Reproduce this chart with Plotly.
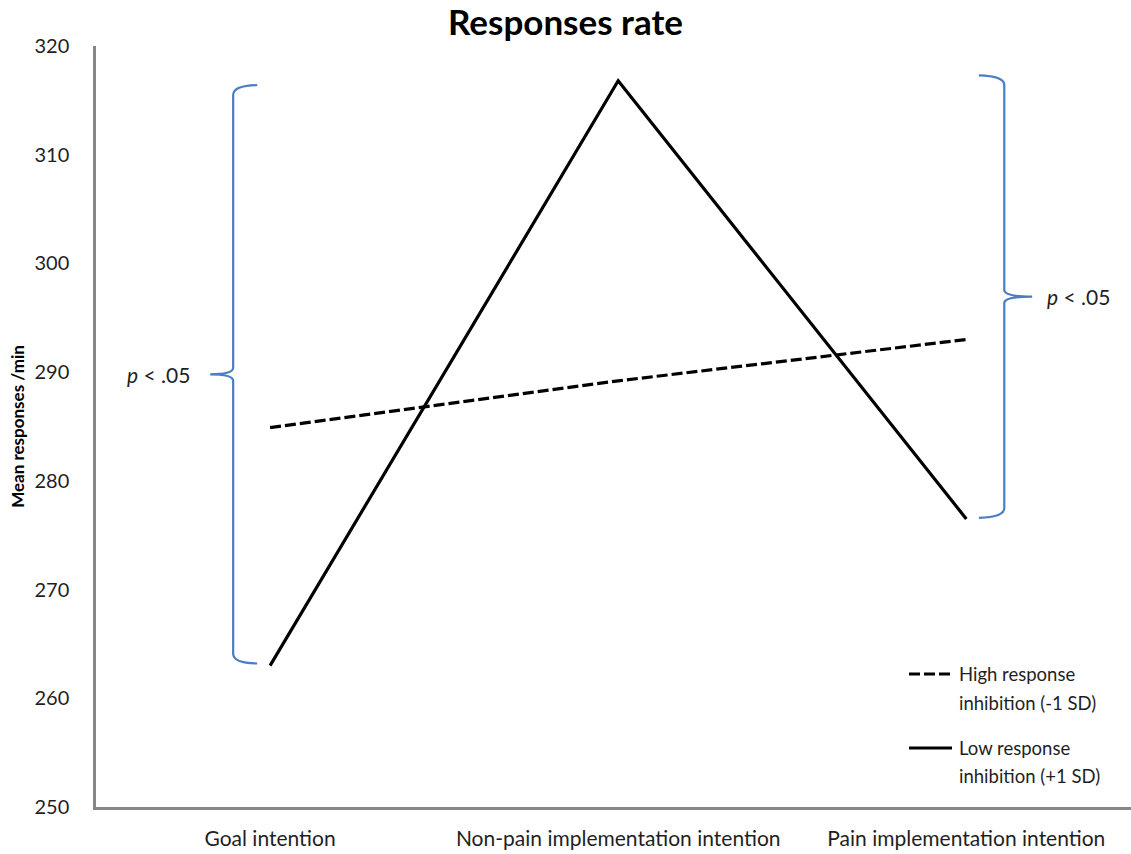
import plotly.graph_objects as go

categories = ["Goal intention", "Non-pain implementation intention", "Pain implementation intention"]
high_inhibition = [284.9, 289.2, 293.0]   # High response inhibition (-1 SD), dashed
low_inhibition = [263.0, 316.8, 276.5]    # Low response inhibition (+1 SD), solid
y_ticks = [250, 260, 270, 280, 290, 300, 310, 320]
series_names = [["High response", "inhibition (-1 SD)"], ["Low response", "inhibition (+1 SD)"]]

# significance braces: [category index, low value, high value, label]
brace_left = [0, 263.2, 316.4, "<i>p</i> < .05"]
brace_right = [2, 276.6, 317.3, "<i>p</i> < .05"]

FONT = "Lato, 'Open Sans', sans-serif"
BLUE = "#4A7EC4"
TXT = "#1f1f1f"
DASH = "11px,4px"

W, H = 1131, 854
L, T, B = 96, 46, 47

fig = go.Figure()
xs = list(range(len(categories)))
fig.add_trace(go.Scatter(x=xs, y=high_inhibition, mode="lines",
                         name=" ".join(series_names[0]),
                         line=dict(color="black", width=3.2, dash=DASH)))
fig.add_trace(go.Scatter(x=xs, y=low_inhibition, mode="lines",
                         name=" ".join(series_names[1]),
                         line=dict(color="black", width=3.2)))


def brace_path(xv, xh, xt, lo, hi, r=0.9, t=0.6):
    mid = (lo + hi) / 2
    return (f"M {xh},{hi} Q {xv},{hi - 0.05} {xv},{hi - r} "
            f"L {xv},{mid + t} Q {xv},{mid} {xt},{mid} "
            f"Q {xv},{mid} {xv},{mid - t} "
            f"L {xv},{lo + r} Q {xv},{lo + 0.05} {xh},{lo}")


# left brace opens right, tip points left
ci, lo, hi, lab = brace_left
fig.add_shape(type="path", xref="x", yref="y",
              path=brace_path(ci - 0.106, ci - 0.037, ci - 0.172, lo, hi),
              line=dict(color=BLUE, width=2.2))
fig.add_annotation(x=ci - 0.225, y=(lo + hi) / 2, xref="x", yref="y", text=lab,
                   showarrow=False, xanchor="right", yanchor="middle",
                   font=dict(family=FONT, size=21, color=TXT))

ci, lo, hi, lab = brace_right
fig.add_shape(type="path", xref="x", yref="y",
              path=brace_path(ci + 0.109, ci + 0.036, ci + 0.189, lo, hi),
              line=dict(color=BLUE, width=2.2))
fig.add_annotation(x=ci + 0.225, y=(lo + hi) / 2, xref="x", yref="y", text=lab,
                   showarrow=False, xanchor="left", yanchor="middle",
                   font=dict(family=FONT, size=21, color=TXT))

# manual legend (bottom right, inside the plot)
plot_h = H - T - B
plot_w = W - L
def px_x(sx):  # screen px -> paper x
    return (sx - L) / plot_w
def px_y(sy):  # screen px -> paper y
    return 1 - (sy - T) / plot_h

legend_rows = [(674, 703, DASH), (748, 776, "solid")]
for (y1, y2, dash), names in zip(legend_rows, series_names):
    fig.add_shape(type="line", xref="paper", yref="paper",
                  x0=px_x(909), x1=px_x(952), y0=px_y(y1), y1=px_y(y1),
                  line=dict(color="black", width=3.2, dash=dash))
    for yy, txt in zip((y1, y2), names):
        fig.add_annotation(x=px_x(957), y=px_y(yy), xref="paper", yref="paper",
                           text=txt, showarrow=False, xanchor="left", yanchor="middle",
                           font=dict(family=FONT, size=18.5, color=TXT))

fig.update_layout(
    width=W, height=H,
    margin=dict(l=L, r=0, t=T, b=B, autoexpand=False),
    paper_bgcolor="white", plot_bgcolor="white",
    font=dict(family=FONT, color=TXT),
    title=dict(text="<b>Responses rate</b>", x=0.5, xref="container", xanchor="center",
               y=1 - 23 / H, yref="container", yanchor="middle",
               font=dict(family=FONT, size=35, color="black")),
    showlegend=False,
)
fig.update_xaxes(tickmode="array", tickvals=xs, ticktext=categories,
                 range=[-0.5, 2.473], showgrid=False, zeroline=False,
                 showline=True, linecolor="#878787", linewidth=2.5,
                 ticks="", ticklabelstandoff=11,
                 tickfont=dict(family=FONT, size=21, color=TXT))
fig.update_yaxes(tickmode="array", tickvals=y_ticks, range=[250, 320],
                 showgrid=False, zeroline=False,
                 showline=True, linecolor="#878787", linewidth=2.5,
                 ticks="", ticklabelstandoff=20,
                 tickfont=dict(family=FONT, size=20, color=TXT),
                 title=dict(text="<b>Mean responses /min</b>", standoff=6,
                            font=dict(family=FONT, size=17, color="black")))

# remove the default 8px page margin so the figure fills the window exactly
fig.write_html("out.html", config={"displayModeBar": False},
               post_script="document.body.style.margin='0';document.body.style.overflow='hidden';")
